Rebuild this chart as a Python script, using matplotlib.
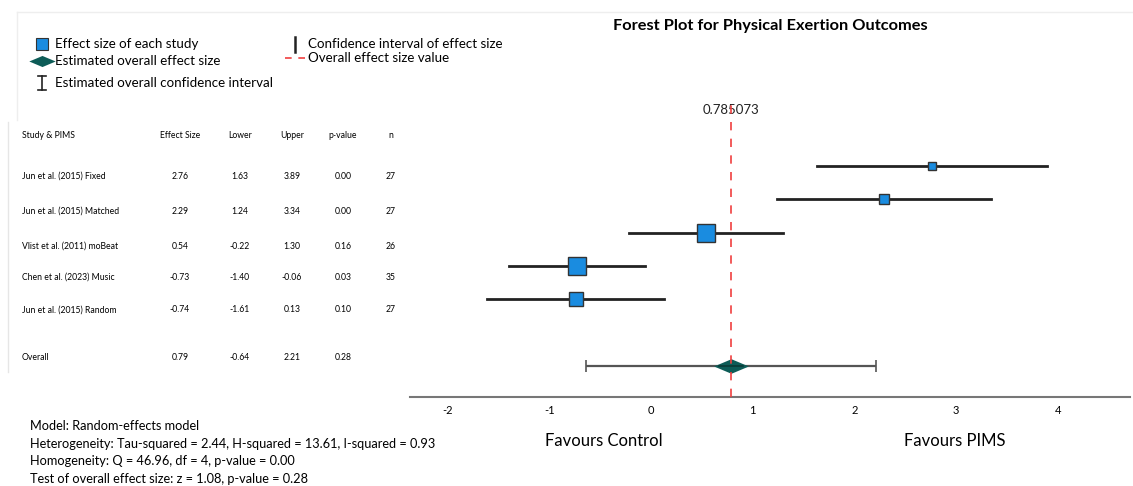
import matplotlib.pyplot as plt
from matplotlib.lines import Line2D
from matplotlib.path import Path

plt.rcParams["axes.unicode_minus"] = False

W, H = 1133, 486

studies = ["Jun et al. (2015) Fixed", "Jun et al. (2015) Matched",
           "Vlist et al. (2011) moBeat", "Chen et al. (2023) Music",
           "Jun et al. (2015) Random"]
effect = [2.76, 2.29, 0.54, -0.73, -0.74]
lower = [1.63, 1.24, -0.22, -1.40, -1.61]
upper = [3.89, 3.34, 1.30, -0.06, 0.13]
pvals = [0.00, 0.00, 0.16, 0.03, 0.10]
n_sizes = [27, 27, 26, 35, 27]
weights = [0.11, 0.14, 0.26, 0.28, 0.21]

overall_effect = 0.785073
overall_lower = -0.64
overall_upper = 2.21
overall_p = 0.28

stats_lines = [
    "Model: Random-effects model",
    "Heterogeneity: Tau-squared = 2.44, H-squared = 13.61, I-squared = 0.93",
    "Homogeneity: Q = 46.96, df = 4, p-value = 0.00",
    "Test of overall effect size: z = 1.08, p-value = 0.28",
]

font = "Lato"
wide_diamond = Path([(-1, 0), (0, 0.42), (1, 0), (0, -0.42), (-1, 0)])


def fx(px):
    return px / W


def fy(py):
    return 1 - py / H


fig = plt.figure(figsize=(W / 100, H / 100), dpi=100)

# forest plot axes
ax = fig.add_axes([fx(410), fy(397), fx(1130) - fx(410), fy(95) - fy(397)])
ax.set_xlim(-2.37, 4.71)
ax.set_ylim(6.94, -2.13)

rows = list(range(len(studies)))
overall_row = len(studies) + 1

for i in rows:
    ax.plot([lower[i], upper[i]], [i, i], color="#222222", lw=2.0, zorder=2)
    side = weights[i] * 66 * 0.72
    ax.plot(effect[i], i, marker="s", markersize=side, color="#1a8ce0",
            markeredgecolor="#333333", markeredgewidth=1.0, zorder=3)

ax.errorbar(overall_effect, overall_row,
            xerr=[[overall_effect - overall_lower], [overall_upper - overall_effect]],
            fmt="none", ecolor="#555555", elinewidth=1.6, capsize=4, capthick=1.2, zorder=2)
ax.plot(overall_effect, overall_row, marker=wide_diamond, markersize=25, color="#0d5c57",
        markeredgewidth=0, zorder=4)
ax.plot([overall_effect - 0.12, overall_effect + 0.12], [overall_row, overall_row],
        color="#0a3a36", lw=1.2, zorder=5)

ax.axvline(overall_effect, ymin=0, ymax=(6.94 + 1.85) / (6.94 + 2.13),
           color="#f04040", lw=1.2, ls=(0, (5, 5)), zorder=6)
ax.text(overall_effect, -1.68, f"{overall_effect:.6f}", ha="center", va="center",
        fontsize=9.5, family=font, color="#222222")

for s in ["top", "right", "left"]:
    ax.spines[s].set_visible(False)
ax.spines["bottom"].set_color("#777777")
ax.spines["bottom"].set_linewidth(1.5)
ax.set_yticks([])
ax.set_xticks([-2, -1, 0, 1, 2, 3, 4])
ax.tick_params(axis="x", length=0, pad=6, labelsize=8)
for lab in ax.get_xticklabels():
    lab.set_family(font)

# favours labels
fig.text(fx(604), fy(441), "Favours Control", ha="center", va="center",
         fontsize=12, family=font)
fig.text(fx(955), fy(441), "Favours PIMS", ha="center", va="center",
         fontsize=12, family=font)

# title
fig.text(fx(770), fy(26), "Forest Plot for Physical Exertion Outcomes", ha="center",
         va="center", fontsize=11.8, fontweight="bold", family=font)

# table
col_x = [180, 240, 292, 343, 391]
headers = ["Effect Size", "Lower", "Upper", "p-value", "n"]
tsize = 6.2
fig.text(fx(22), fy(135), "Study & PIMS", fontsize=tsize, family=font, va="center")
for x, h in zip(col_x, headers):
    fig.text(fx(x), fy(135), h, fontsize=tsize, family=font, ha="center", va="center")

table_rows = [176, 211, 246, 277, 310]
for i, y in zip(rows, table_rows):
    vals = [f"{effect[i]:.2f}", f"{lower[i]:.2f}", f"{upper[i]:.2f}",
            f"{pvals[i]:.2f}", str(n_sizes[i])]
    fig.text(fx(22), fy(y), studies[i], fontsize=tsize, family=font, va="center")
    for x, v in zip(col_x, vals):
        fig.text(fx(x), fy(y), v, fontsize=tsize, family=font, ha="center", va="center")

ov_vals = [f"{overall_effect:.2f}", f"{overall_lower:.2f}", f"{overall_upper:.2f}",
           f"{overall_p:.2f}"]
fig.text(fx(22), fy(358), "Overall", fontsize=tsize, family=font, va="center")
for x, v in zip(col_x, ov_vals):
    fig.text(fx(x), fy(358), v, fontsize=tsize, family=font, ha="center", va="center")

# faint frame lines
fig.add_artist(Line2D([fx(8), fx(8)], [fy(122), fy(372)], color="#e6e6e6", lw=1))
fig.add_artist(Line2D([fx(17), fx(17)], [fy(12), fy(120)], color="#eeeeee", lw=1))
fig.add_artist(Line2D([fx(17), fx(1133)], [fy(12), fy(12)], color="#eeeeee", lw=1))

# legend
fig.add_artist(Line2D([fx(42)], [fy(44)], marker="s", markersize=9, color="#1a8ce0",
                      markeredgecolor="#333333", markeredgewidth=0.8))
fig.add_artist(Line2D([fx(42)], [fy(61)], marker=wide_diamond, markersize=19,
                      color="#0d5c57", markeredgewidth=0))
fig.add_artist(Line2D([fx(42), fx(42)], [fy(76), fy(90)], color="#222222", lw=1.2))
fig.add_artist(Line2D([fx(38), fx(46)], [fy(76), fy(76)], color="#222222", lw=1.2))
fig.add_artist(Line2D([fx(38), fx(46)], [fy(90), fy(90)], color="#222222", lw=1.2))
fig.add_artist(Line2D([fx(295), fx(295)], [fy(37), fy(52)], color="#222222", lw=1.8))
fig.add_artist(Line2D([fx(285), fx(305)], [fy(58), fy(58)], color="#f04040", lw=1.2,
                      ls=(0, (4, 4))))

leg_texts = [(55, 44, "Effect size of each study"),
             (55, 61, "Estimated overall effect size"),
             (55, 83, "Estimated overall confidence interval"),
             (308, 44, "Confidence interval of effect size"),
             (308, 58, "Overall effect size value")]
for x, y, t in leg_texts:
    fig.text(fx(x), fy(y), t, fontsize=9.6, family=font, va="center")

for i, t in enumerate(stats_lines):
    fig.text(fx(30), fy(426 + 17.5 * i), t, fontsize=9.2, family=font, va="center")

fig.savefig("out.png", dpi=100)
